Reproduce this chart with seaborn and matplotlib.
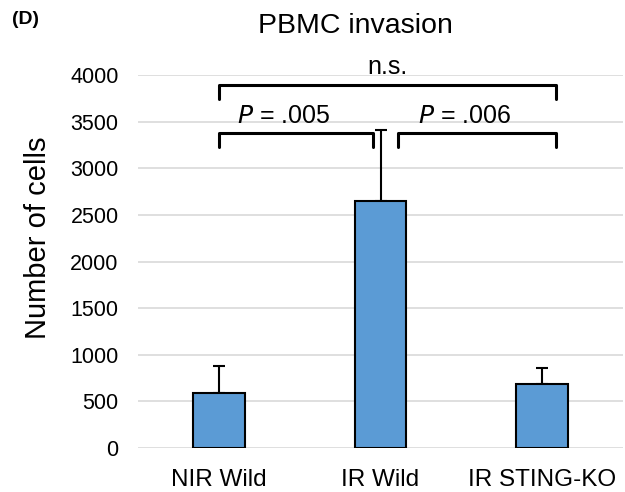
import numpy as np
import pandas as pd
import matplotlib
matplotlib.use('Agg')
import matplotlib.pyplot as plt
import seaborn as sns

groups = ['NIR Wild', 'IR Wild', 'IR STING-KO']
cells = [590, 2650, 690]
cells_sd = [290, 760, 170]

# brackets: (x_left, x_right, y_line, y_leg_bottom, label, label_x, label_y, italic_p)
brackets = [
    (0.0, 2.085, 3893, 3743, 'n.s.', 1.04, 4010, False),
    (0.0, 0.953, 3383, 3228, '.005', 0.40, 3490, True),
    (1.108, 2.085, 3383, 3228, '.006', 1.52, 3490, True),
]

sns.set_style('white')
plt.rcParams['font.family'] = ['Liberation Sans', 'DejaVu Sans']
plt.rcParams['text.color'] = 'black'

df = pd.DataFrame({'group': groups, 'cells': cells})

fig = plt.figure(figsize=(6.25, 4.92), dpi=100)
ax = fig.add_axes([138 / 625, 44 / 492, 485 / 625, 373 / 492])

sns.barplot(data=df, x='group', y='cells', color='#5B9BD5', edgecolor='black',
            linewidth=1.5, width=0.32, saturation=1, errorbar=None, ax=ax, zorder=3)
ax.errorbar(np.arange(len(groups)), cells, yerr=[np.zeros(len(cells)), cells_sd],
            fmt='none', ecolor='black', elinewidth=1.5, capsize=4.5, capthick=1.5, zorder=2)

ax.set_ylim(0, 4000)
ax.set_xlim(-0.5, 2.5)
ax.set_yticks(range(0, 4001, 500))
ax.yaxis.grid(True, color='#d9d9d9', linewidth=1.2, zorder=0)
ax.set_axisbelow(True)
for s in ax.spines.values():
    s.set_visible(False)
ax.tick_params(axis='x', length=0, labelsize=17.5, pad=15, labelcolor='black')
ax.tick_params(axis='y', length=0, labelsize=15.5, pad=14, labelcolor='black')
ax.set_xlabel('')
ax.set_ylabel('Number of cells', fontsize=21, color='black')
ax.yaxis.set_label_coords(-0.206, 0.563)
ax.yaxis.label.set_va('center')

for x0, x1, yl, yb, lab, lx, ly, italic in brackets:
    ax.plot([x0, x0, x1, x1], [yb, yl, yl, yb], color='black', lw=2.2,
            clip_on=False, solid_joinstyle='round', zorder=4)
    if italic:
        ax.text(lx, ly, r'$\it{P}$ = ' + lab, ha='center', va='baseline', fontsize=18)
    else:
        ax.text(lx, ly, lab, ha='center', va='baseline', fontsize=18)

fig.text(355 / 625, 1 - 26 / 492, 'PBMC invasion', ha='center', va='center', fontsize=20.5)
fig.text(12 / 625, 1 - 19 / 492, '(D)', ha='left', va='center', fontsize=14, fontweight='bold')

fig.savefig('out.png', dpi=100)
